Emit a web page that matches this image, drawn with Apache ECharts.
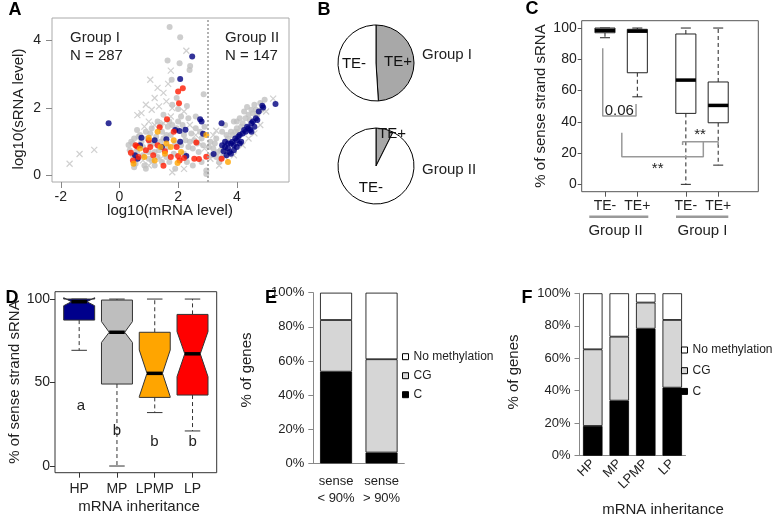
<!DOCTYPE html>
<html><head><meta charset="utf-8">
<script src="https://cdn.jsdelivr.net/npm/echarts@6/dist/echarts.min.js"></script>
<style>html,body{margin:0;padding:0;background:#fff}#c{width:776px;height:520px}</style>
</head><body><div id="c"></div><script>
// ---------- Panel A: scatter (log10 mRNA vs log10 sRNA) ----------
const aGrey = [[1.71,4.4],[2.07,4.1],[1.64,3.41],[2.05,3.33],[2.39,3.13],[1.78,2.84],[2.41,3.25],[2.87,2.41],[2.3,2.06],[2.0,1.97],[1.8,2.1],[1.95,2.3],[1.3,1.6],[1.5,1.8],[1.1,1.4],[0.9,1.3],[0.7,1.2],[0.5,1.1],[0.31,0.91],[0.4,1.0],[0.6,0.7],[0.8,0.6],[1.0,0.5],[1.2,0.7],[1.4,1.0],[1.6,1.2],[1.8,1.5],[2.0,1.6],[2.2,1.2],[2.4,1.0],[2.6,1.4],[2.8,1.1],[2.5,0.8],[2.3,0.4],[2.5,0.3],[2.96,0.05],[2.96,0.15],[1.2,0.3],[0.9,0.2],[0.5,0.25],[1.7,0.4],[1.9,0.2],[1.45,1.3],[1.65,1.45],[0.75,1.0],[1.05,0.95],[1.25,1.15],[1.9,0.95],[2.15,1.5],[2.35,1.7],[2.6,1.75],[2.7,0.7],[2.85,0.9],[0.45,0.6],[0.35,0.75],[0.45,0.95],[0.55,0.35],[0.65,1.15],[0.8,0.85],[0.85,0.3],[0.95,1.1],[1.0,0.7],[1.1,0.45],[1.15,0.95],[1.3,0.55],[1.35,0.75],[1.45,0.4],[1.5,1.1],[1.6,0.55],[1.65,0.85],[1.75,1.2],[1.85,0.65],[1.95,1.4],[2.1,0.9],[2.2,0.65],[2.25,1.05],[2.35,0.85],[2.45,1.25],[2.55,1.05],[2.65,0.95],[2.75,1.3],[2.8,0.4],[2.9,1.45],[0.6,1.35],[1.05,1.25],[1.4,1.5],[1.7,1.6],[2.1,1.75],[3.1,1.0],[3.2,0.8],[3.3,1.1],[3.4,0.4],[3.5,1.3],[3.6,1.5],[3.8,1.3],[3.9,1.6],[4.0,1.4],[4.1,1.7],[4.2,1.55],[4.35,2.03],[4.4,1.8],[4.5,1.95],[4.6,2.1],[4.8,2.15],[4.95,2.25],[3.45,0.75],[3.65,1.2],[4.25,1.9],[3.3,0.55],[4.05,1.3],[4.7,1.8],[3.05,0.85],[3.15,0.6],[3.25,0.95],[3.35,0.7],[3.5,0.55],[3.7,1.1],[3.85,1.2],[4.0,1.6],[4.15,1.45],[4.3,1.7],[4.45,1.65],[4.55,1.85],[4.65,1.95],[4.85,1.95],[3.95,1.3],[3.6,0.75]];
const aCross = [[-1.7,0.35],[-1.36,0.64],[-0.86,0.76],[0.61,1.79],[2.28,3.7],[1.75,3.11],[1.05,2.84],[1.66,2.72],[1.3,2.6],[1.5,2.45],[1.2,2.3],[0.9,2.1],[1.1,1.95],[1.35,2.05],[1.6,2.2],[1.8,2.0],[0.75,1.85],[1.0,1.6],[0.85,1.45],[1.2,1.5],[1.5,1.55],[1.75,1.75],[2.2,1.9],[2.4,1.5],[2.6,1.2],[2.7,1.0],[3.3,1.33],[5.24,2.28],[1.8,0.1],[1.0,0.3],[2.2,0.2],[0.8,0.45],[3.1,0.5],[3.4,0.3],[3.6,0.55],[3.9,0.6],[4.2,0.9],[4.4,1.1],[4.6,1.25],[4.8,1.5],[5.0,1.9],[3.2,1.2],[2.9,0.8],[1.4,0.5],[0.55,0.8]];
const aNavy = [[-0.37,1.55],[2.48,3.53],[2.07,2.86],[2.75,1.67],[2.8,1.6],[1.9,1.35],[2.05,1.32],[2.25,1.36],[0.75,1.12],[1.6,1.08],[2.07,1.0],[0.53,0.6],[2.28,0.58],[0.7,0.9],[1.45,0.85],[1.2,1.05],[2.85,1.24],[0.62,0.5],[3.21,0.64],[3.48,1.55],[3.5,0.9],[3.6,0.85],[3.7,0.8],[3.75,0.7],[3.8,0.95],[3.85,1.0],[3.9,0.9],[3.95,1.1],[4.0,1.05],[4.05,1.15],[4.1,1.2],[4.15,1.0],[4.2,1.25],[4.25,1.35],[4.3,1.3],[4.35,1.45],[4.4,1.4],[4.45,1.35],[4.5,1.55],[4.55,1.6],[4.6,1.45],[4.65,1.7],[4.7,1.65],[4.75,1.9],[4.87,2.07],[4.9,2.02],[5.32,2.12],[3.65,0.6],[3.7,0.95],[3.55,0.72],[3.9,0.75],[4.0,0.85],[3.6,1.0],[4.5,1.3],[3.8,0.65],[4.1,0.95]];
const aRed = [[2.16,2.59],[2.0,2.49],[2.03,2.14],[1.62,1.67],[1.37,1.43],[0.6,0.86],[0.55,0.9],[0.39,0.68],[0.46,0.45],[1.5,0.29],[1.75,0.55],[2.0,0.58],[2.05,0.45],[2.71,0.49],[2.62,0.98],[2.96,0.56],[2.55,0.5],[3.48,0.5],[1.85,1.3],[1.05,0.85],[1.3,0.9],[0.9,0.75],[1.95,0.85],[0.65,0.55],[1.55,0.72],[2.2,0.52],[1.15,0.6],[1.0,1.05]];
const aOrange = [[1.3,1.3],[1.0,1.12],[1.98,0.37],[0.48,0.35],[2.96,1.2],[3.7,0.4],[1.6,0.95],[1.4,0.85],[1.75,0.85],[0.85,0.55],[1.2,0.45],[1.55,0.65],[2.1,0.7],[0.7,0.8],[1.85,1.05]];
const aXTicks = [-2, 0, 2, 4];
const aYTicks = [0, 2, 4];
const aThreshold = 3;

// ---------- Panel B: pies ----------
const bGroup1 = [{name:'TE+', value:49},{name:'TE-', value:51}];
const bGroup2 = [{name:'TE+', value:7.4},{name:'TE-', value:92.6}];

// ---------- Panel C: boxplots ----------
const cLabels = ['TE-','TE+','TE-','TE+'];
const cPos = [1, 2, 3.5, 4.5];
const cMin = [93.8, 56, 0, 12.3];
const cQ1  = [97, 71.4, 45.4, 39.4];
const cMed = [98.5, 98, 66.7, 50.5];
const cQ3  = [100, 99.2, 96.2, 65.5];
const cMax = [100, 100, 100, 100];
const cYTicks = [0,20,40,60,80,100];
const cBracket06 = [[0.93,87],[0.93,43.7],[1.96,43.7],[1.96,51.4]];
const cBracketLow = [[1.52,33],[1.52,17.7],[4.04,17.7],[4.04,27.3]];
const cBracketUp = [[3.40,25.1],[3.40,27.3],[4.5,27.3],[4.5,25.1]];

// ---------- Panel D: notched boxplots ----------
const dLabels = ['HP','MP','LPMP','LP'];
const dPos = [1,2,3,4];
const dMin = [69.3, 0, 32, 21];
const dQ1  = [87.4, 49.1, 41.1, 42.5];
const dMed = [98.4, 80.1, 55.5, 67.2];
const dQ3  = [100, 99.4, 80.1, 90.8];
const dMax = [100, 100, 100, 100];
const dNotchLo = [96, 74, 41.5, 53.5];
const dNotchHi = [100.8, 86.5, 69.5, 80.5];
const dColors = ['#00008b','#bebebe','#ffa500','#ff0000'];
const dLetters = ['a','b','b','b'];
const dYTicks = [0,50,100];

// ---------- Panel E: stacked bars ----------
const eCats = ['sense\n< 90%','sense\n> 90%'];
const eC  = [53.7, 6.3];
const eCG = [30.3, 54.7];
const eNo = [16.0, 39.0];

// ---------- Panel F: stacked bars ----------
const fCats = ['HP','MP','LPMP','LP'];
const fC  = [18.3, 33.9, 78.2, 41.9];
const fCG = [47.2, 39.4, 16.1, 41.7];
const fNo = [34.5, 26.7, 5.7, 16.4];

const FONT = '"Liberation Sans", Arial, Helvetica, sans-serif';
const chart = echarts.init(document.getElementById('c'), null, {renderer:'canvas'});

function boxRender(halfW, notched, fills, stroke) {
  return function (params, api) {
    const x = api.value(0);
    const mn = api.value(1), q1 = api.value(2), md = api.value(3), q3 = api.value(4), mx = api.value(5);
    const hw = api.size([halfW, 0])[0];
    const P = v => api.coord([x, v]);
    const cx = P(md)[0];
    const yMin = P(mn)[1], yQ1 = P(q1)[1], yMd = P(md)[1], yQ3 = P(q3)[1], yMax = P(mx)[1];
    const capW = hw * 0.5;
    const fill = fills ? fills[params.dataIndex] : '#fff';
    const ch = [];
    if (mx > q3) ch.push({type:'line', shape:{x1:cx,y1:yQ3,x2:cx,y2:yMax}, style:{stroke:stroke, lineWidth:1, lineDash:[4,3]}});
    if (mn < q1) ch.push({type:'line', shape:{x1:cx,y1:yQ1,x2:cx,y2:yMin}, style:{stroke:stroke, lineWidth:1, lineDash:[4,3]}});
    ch.push({type:'line', shape:{x1:cx-capW,y1:yMax,x2:cx+capW,y2:yMax}, style:{stroke:stroke, lineWidth:1}});
    ch.push({type:'line', shape:{x1:cx-capW,y1:yMin,x2:cx+capW,y2:yMin}, style:{stroke:stroke, lineWidth:1}});
    let medHalf = hw;
    if (notched) {
      const nLo = P(api.value(6))[1], nHi = P(api.value(7))[1];
      const pts = [[cx-hw,yQ1],[cx-hw,nLo],[cx-hw*0.5,yMd],[cx-hw,nHi],[cx-hw,yQ3],[cx+hw,yQ3],[cx+hw,nHi],[cx+hw*0.5,yMd],[cx+hw,nLo],[cx+hw,yQ1]];
      ch.push({type:'polygon', shape:{points:pts}, style:{fill:fill, stroke:stroke, lineWidth:1}});
      medHalf = hw*0.5;
    } else {
      ch.push({type:'rect', shape:{x:cx-hw, y:yQ3, width:2*hw, height:yQ1-yQ3}, style:{fill:fill, stroke:stroke, lineWidth:1}});
    }
    ch.push({type:'line', shape:{x1:cx-medHalf,y1:yMd,x2:cx+medHalf,y2:yMd}, style:{stroke:'#000', lineWidth:3.5}});
    return {type:'group', children:ch};
  };
}

const cData = cPos.map((p,i)=>[p,cMin[i],cQ1[i],cMed[i],cQ3[i],cMax[i]]);
const dData = dPos.map((p,i)=>[p,dMin[i],dQ1[i],dMed[i],dQ3[i],dMax[i],dNotchLo[i],dNotchHi[i]]);

const tickLbl = {color:'#222', fontSize:14, fontFamily:FONT};
const crossPath = 'path://M0,0L10,10M10,0L0,10';
const noLine = {show:false, onZero:false};

function txt(x, y, s, o) {
  return Object.assign({type:'text', x:x, y:y, style:Object.assign({text:s, fill:'#222', fontSize:15, fontFamily:FONT, align:'center', verticalAlign:'middle'}, (o&&o.style)||{})}, o&&o.rotation!==undefined?{rotation:o.rotation}:{});
}

const barBorder = {borderColor:'#000', borderWidth:0.8};

const option = {
  animation:false,
  textStyle:{fontFamily:FONT},
  grid:[
    {left:52, top:18, width:237, height:164, show:true, borderColor:'#aaa', borderWidth:1},
    {left:581.7, top:20.7, width:176.6, height:171, show:true, borderColor:'#555', borderWidth:1},
    {left:55, top:291.7, width:161.7, height:181, show:true, borderColor:'#333', borderWidth:1},
    {left:313.3, top:292.7, width:91, height:170.6},
    {left:579.5, top:293.3, width:106, height:162.4}
  ],
  xAxis:[
    {gridIndex:0, type:'value', min:-2.3, max:5.78, axisLine:noLine, splitLine:{show:false},
     axisTick:{customValues:aXTicks, length:6, lineStyle:{color:'#888'}}, axisLabel:Object.assign({customValues:aXTicks, margin:8}, tickLbl)},
    {gridIndex:1, type:'value', min:0.28, max:5.74, axisLine:noLine, splitLine:{show:false},
     axisTick:{customValues:cPos, length:5, lineStyle:{color:'#555'}},
     axisLabel:Object.assign({customValues:cPos, margin:7, formatter:v=>cLabels[cPos.indexOf(v)]}, tickLbl)},
    {gridIndex:2, type:'value', min:0.36, max:4.64, axisLine:noLine, splitLine:{show:false},
     axisTick:{customValues:dPos, length:5, lineStyle:{color:'#333'}},
     axisLabel:Object.assign({customValues:dPos, margin:9, formatter:v=>dLabels[dPos.indexOf(v)]}, tickLbl)},
    {gridIndex:3, type:'category', data:eCats, axisLine:{lineStyle:{color:'#888'}}, axisTick:{length:5, lineStyle:{color:'#888'}},
     axisLabel:{interval:0, color:'#222', fontSize:13, lineHeight:17, margin:10, fontFamily:FONT}},
    {gridIndex:4, type:'category', data:fCats, axisLine:{lineStyle:{color:'#888'}}, axisTick:{length:5, lineStyle:{color:'#888'}},
     axisLabel:{interval:0, color:'#222', fontSize:13, rotate:45, margin:6, fontFamily:FONT}}
  ],
  yAxis:[
    {gridIndex:0, type:'value', min:-0.19, max:4.67, axisLine:noLine, splitLine:{show:false},
     axisTick:{customValues:aYTicks, length:6, lineStyle:{color:'#888'}}, axisLabel:Object.assign({customValues:aYTicks, margin:11}, tickLbl)},
    {gridIndex:1, type:'value', min:-4.7, max:104.7, axisLine:noLine, splitLine:{show:false},
     axisTick:{customValues:cYTicks, length:4, lineStyle:{color:'#555'}}, axisLabel:Object.assign({customValues:cYTicks, margin:5}, tickLbl)},
    {gridIndex:2, type:'value', min:-4, max:104.4, axisLine:noLine, splitLine:{show:false},
     axisTick:{customValues:dYTicks, length:5, lineStyle:{color:'#333'}}, axisLabel:Object.assign({customValues:dYTicks, margin:5}, tickLbl)},
    {gridIndex:3, type:'value', min:0, max:100, interval:20, axisLine:{show:true, lineStyle:{color:'#888'}}, splitLine:{show:false},
     axisTick:{show:true, length:5, lineStyle:{color:'#888'}}, axisLabel:{formatter:'{value}%', color:'#222', fontSize:13, margin:9, fontFamily:FONT}},
    {gridIndex:4, type:'value', min:0, max:100, interval:20, axisLine:{show:true, lineStyle:{color:'#888'}}, splitLine:{show:false},
     axisTick:{show:true, length:5, lineStyle:{color:'#888'}}, axisLabel:{formatter:'{value}%', color:'#222', fontSize:13, margin:9, fontFamily:FONT}}
  ],
  legend:[
    {orient:'vertical', left:402, top:349.7, padding:0, itemGap:5, itemWidth:6, itemHeight:6, icon:'rect',
     data:['No methylation','CG','C'], textStyle:{fontSize:12, lineHeight:14, color:'#222', fontFamily:FONT},
     itemStyle:{borderColor:'#000', borderWidth:1}, selectedMode:false},
    {orient:'vertical', left:681, top:343, padding:0, itemGap:6.7, itemWidth:6, itemHeight:6, icon:'rect',
     data:['No methylation','CG','C'], textStyle:{fontSize:12, lineHeight:14, color:'#222', fontFamily:FONT},
     itemStyle:{borderColor:'#000', borderWidth:1}, selectedMode:false}
  ],
  series:[
    {type:'scatter', name:'grey', xAxisIndex:0, yAxisIndex:0, data:aGrey, symbolSize:6, itemStyle:{color:'#c0c0c0'}, silent:true,
     markLine:{silent:true, symbol:'none', label:{show:false}, lineStyle:{color:'#999', type:[2,2], width:1.5}, data:[{xAxis:aThreshold}]}},
    {type:'scatter', name:'cross', xAxisIndex:0, yAxisIndex:0, data:aCross, symbol:crossPath, symbolSize:6, itemStyle:{color:'transparent', borderColor:'#c4c4c4', borderWidth:1.2}, silent:true},
    {type:'scatter', name:'navy', xAxisIndex:0, yAxisIndex:0, data:aNavy, symbolSize:6, itemStyle:{color:'#00007f'}, silent:true},
    {type:'scatter', name:'red', xAxisIndex:0, yAxisIndex:0, data:aRed, symbolSize:6, itemStyle:{color:'#ff1a00'}, silent:true},
    {type:'scatter', name:'orange', xAxisIndex:0, yAxisIndex:0, data:aOrange, symbolSize:6, itemStyle:{color:'#ffa500'}, silent:true},

    {type:'pie', center:[376,63], radius:38, startAngle:90, clockwise:true, silent:true, avoidLabelOverlap:false,
     data:bGroup1.map(d=>Object.assign({}, d, {itemStyle:{color:d.name==='TE+'?'#a8a8a8':'#fff'}})),
     itemStyle:{borderColor:'#000', borderWidth:1}, label:{show:true, position:'inside', formatter:'{b}', color:'#111', fontSize:15, textBorderWidth:0}, labelLine:{show:false}},
    {type:'pie', center:[376,166], radius:38, startAngle:90, clockwise:true, silent:true, avoidLabelOverlap:false,
     data:bGroup2.map(d=>Object.assign({}, d, {itemStyle:{color:d.name==='TE+'?'#a8a8a8':'#fff'}, label:d.name==='TE+'?{offset:[11,-11]}:{}})),
     itemStyle:{borderColor:'#000', borderWidth:1}, label:{show:true, position:'inside', formatter:'{b}', color:'#111', fontSize:15, textBorderWidth:0}, labelLine:{show:false}},

    {type:'custom', xAxisIndex:1, yAxisIndex:1, data:cData, encode:{x:0, y:[1,2,3,4,5]}, silent:true,
     renderItem:boxRender(0.31, false, null, '#222')},
    {type:'line', xAxisIndex:1, yAxisIndex:1, data:cBracket06, showSymbol:false, silent:true, lineStyle:{color:'#999', width:1.5}},
    {type:'line', xAxisIndex:1, yAxisIndex:1, data:cBracketLow, showSymbol:false, silent:true, lineStyle:{color:'#999', width:1.5}},
    {type:'line', xAxisIndex:1, yAxisIndex:1, data:cBracketUp, showSymbol:false, silent:true, lineStyle:{color:'#999', width:1.5}},

    {type:'custom', xAxisIndex:2, yAxisIndex:2, data:dData, encode:{x:0, y:[1,2,3,4,5]}, silent:true,
     renderItem:boxRender(0.41, true, dColors, '#333')},

    {type:'bar', name:'C', xAxisIndex:3, yAxisIndex:3, stack:'e', data:eC, barWidth:32, itemStyle:Object.assign({color:'#000'}, barBorder), silent:true},
    {type:'bar', name:'CG', xAxisIndex:3, yAxisIndex:3, stack:'e', data:eCG, barWidth:32, itemStyle:Object.assign({color:'#d6d6d6'}, barBorder), silent:true},
    {type:'bar', name:'No methylation', xAxisIndex:3, yAxisIndex:3, stack:'e', data:eNo, barWidth:32, itemStyle:Object.assign({color:'#fff'}, barBorder), silent:true},
    {type:'bar', name:'C', xAxisIndex:4, yAxisIndex:4, stack:'f', data:fC, barWidth:19.5, itemStyle:Object.assign({color:'#000'}, barBorder), silent:true},
    {type:'bar', name:'CG', xAxisIndex:4, yAxisIndex:4, stack:'f', data:fCG, barWidth:19.5, itemStyle:Object.assign({color:'#d6d6d6'}, barBorder), silent:true},
    {type:'bar', name:'No methylation', xAxisIndex:4, yAxisIndex:4, stack:'f', data:fNo, barWidth:19.5, itemStyle:Object.assign({color:'#fff'}, barBorder), silent:true}
  ],
  graphic:[
    txt(15,10,'A',{style:{fontSize:18, fontWeight:'bold', fill:'#000'}}),
    txt(324,10,'B',{style:{fontSize:18, fontWeight:'bold', fill:'#000'}}),
    txt(532,9,'C',{style:{fontSize:18, fontWeight:'bold', fill:'#000'}}),
    txt(12,298,'D',{style:{fontSize:18, fontWeight:'bold', fill:'#000'}}),
    txt(271,298,'E',{style:{fontSize:18, fontWeight:'bold', fill:'#000'}}),
    txt(527,298,'F',{style:{fontSize:18, fontWeight:'bold', fill:'#000'}}),
    txt(70,37.5,'Group I',{style:{align:'left'}}),
    txt(70,56,'N = 287',{style:{align:'left'}}),
    txt(225,37.5,'Group II',{style:{align:'left'}}),
    txt(225,56,'N = 147',{style:{align:'left'}}),
    txt(170,211,'log10(mRNA level)'),
    txt(19,109,'log10(sRNA level)',{rotation:Math.PI/2}),
    txt(422,55,'Group I',{style:{align:'left'}}),
    txt(422,170,'Group II',{style:{align:'left'}}),
    txt(541,106,'% of sense strand sRNA',{rotation:Math.PI/2}),
    txt(619.3,110.7,'0.06'),
    txt(700,134.5,'**'),
    txt(657.7,168.5,'**'),
    {type:'rect', shape:{x:589.3, y:215.5, width:59, height:2.5}, style:{fill:'#999'}},
    {type:'rect', shape:{x:676, y:215.5, width:52.3, height:2.5}, style:{fill:'#999'}},
    txt(615.5,231,'Group II'),
    txt(702.5,231,'Group I'),
    txt(15,382,'% of sense strand sRNA',{rotation:Math.PI/2}),
    txt(139,507,'mRNA inheritance'),
    txt(81,406,dLetters[0]), txt(117,431,dLetters[1]), txt(154.5,442,dLetters[2]), txt(192.7,442,dLetters[3]),
    txt(247,370,'% of genes',{rotation:Math.PI/2}),
    txt(514,372,'% of genes',{rotation:Math.PI/2}),
    txt(663,510,'mRNA inheritance')
  ]
};
chart.setOption(option);
</script></body></html>
